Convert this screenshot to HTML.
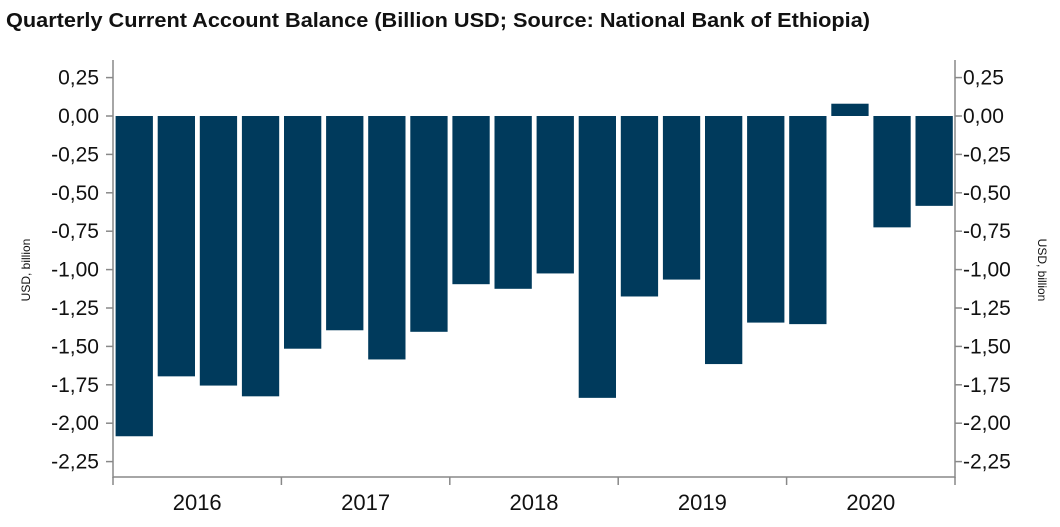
<!DOCTYPE html>
<html><head><style>
body{margin:0;background:#fff;}
svg{display:block;font-family:"Liberation Sans",Arial,sans-serif;}
</style></head><body>
<svg width="1060" height="527" viewBox="0 0 1060 527">
<text x="6" y="27" font-size="20" font-weight="bold" fill="#111" textLength="864" lengthAdjust="spacingAndGlyphs">Quarterly Current Account Balance (Billion USD; Source: National Bank of Ethiopia)</text>
<g id="bars" fill="#003a5c"></g>
<g stroke="#888" stroke-width="1.5" fill="none">
<line x1="113" y1="60" x2="113" y2="478"/>
<line x1="955" y1="60" x2="955" y2="478"/>
<line x1="113" y1="477" x2="955" y2="477"/>
</g>
<g id="ticks" stroke="#888" stroke-width="1.5"></g>
<g id="lbl" font-size="21" fill="#111"></g>
<text transform="translate(30,270) rotate(-90)" font-size="12" text-anchor="middle" fill="#111">USD, billion</text>
<text transform="translate(1038,270) rotate(90)" font-size="12" text-anchor="middle" fill="#111">USD, billion</text>
<script>
var ns="http://www.w3.org/2000/svg";
function el(p,t,a,txt){var e=document.createElementNS(ns,t);for(var k in a)e.setAttribute(k,a[k]);if(txt)e.textContent=txt;document.getElementById(p).appendChild(e);}
var v=[-2.085,-1.695,-1.755,-1.825,-1.515,-1.395,-1.585,-1.405,-1.095,-1.125,-1.025,-1.835,-1.175,-1.065,-1.615,-1.345,-1.355,0.08,-0.725,-0.585];
var y0=116,s=153.6,slot=42.1;
v.forEach(function(d,i){var x=113+i*slot+2.6;var y=d<0?y0:y0-d*s;el("bars","rect",{x:x,y:y,width:37.3,height:Math.abs(d)*s});});
for(var i=0;i<=10;i++){var val=0.25-i*0.25;var y=y0-val*s;
var t=val.toFixed(2).replace(".",",");if(Math.abs(val)<1e-9)t="0,00";
el("ticks","line",{x1:106,y1:y,x2:113,y2:y});el("ticks","line",{x1:955,y1:y,x2:962,y2:y});
el("lbl","text",{x:99,y:y+7,"text-anchor":"end"},t);el("lbl","text",{x:963,y:y+7},t);}
var yrs=["2016","2017","2018","2019","2020"];
for(var j=0;j<=5;j++){var x=113+j*4*slot;el("ticks","line",{x1:x,y1:477,x2:x,y2:485});
if(j<5)el("lbl","text",{x:x+2*slot,y:510,"text-anchor":"middle","font-size":"22"},yrs[j]);}
</script>
</svg>
</body></html>
